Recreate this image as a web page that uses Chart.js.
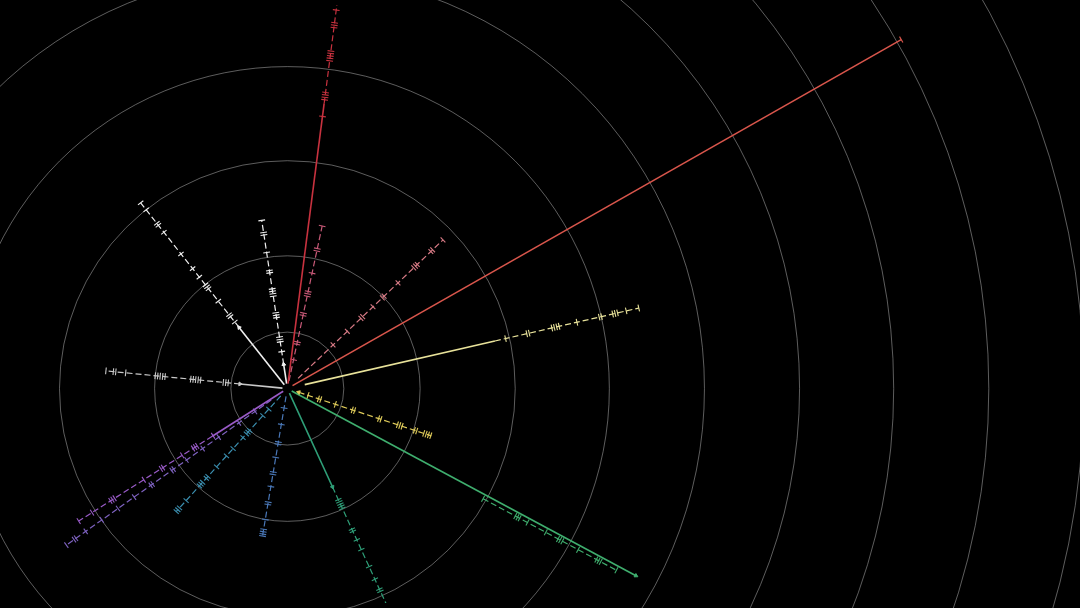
<!DOCTYPE html>
<html>
<head>
<meta charset="utf-8">
<script src="https://cdn.jsdelivr.net/npm/chart.js@4"></script>
<style>
  html, body { margin: 0; padding: 0; background: #000; overflow: hidden; }
  #wrap { width: 1080px; height: 608px; position: relative; }
</style>
</head>
<body>
<div id="wrap"><canvas id="c"></canvas></div>
<script>
// ---- data (polar: angle in degrees, radius in px units) ----
const ringRadii = [57, 134, 230, 325, 421, 517, 612, 708, 804];

const spokeNames  = ['redLong','redUp','redDash','salmon','yellowLong','yellowShort','greenLong','greenDown','blueDown','blueLeft','purpleA','purpleB','grayLeft','whiteLong','whiteUp'];
const spokeAngles = [29.8, 82.7, 78.0, 43.9, 13.0, -18.3, -28.4, -65.5, -99.5, -131.9, -147.4, -144.5, 174.4, 128.1, 98.6];
const spokeColors = ['#d9564c','#c8323f','#c85a78','#d77a85','#e8e29a','#e0cc5a','#3fae6e','#2f9f78','#4a78b8','#3b8fb0','#9a5bc8','#7e62c0','#c8c8c8','#f0f0f0','#f0f0f0'];
const solidFrom   = [6, 5, 0, 0, 18, 0, 5, 5, 0, 0, 5, 0, 5, 5, 5];
const solidTo     = [714, 292, 0, 0, 215, 0, 400, 110, 0, 0, 90, 0, 48, 79, 25];
const dashFrom    = [0, 292, 8, 15, 215, 12, 227, 110, 8, 10, 90, 20, 48, 79, 25];
const dashTo      = [0, 480, 169, 218, 364, 153, 380, 260, 152, 168, 250, 274, 184, 240, 173];
const dashOffset  = [0, 0, 0, 0, 0, 0, 4.5, 0, 0, 0, 0, 0, 0, 0, 0];
const tickRadii = [
  [714],
  [279, 296, 298.5, 301, 303.5, 336, 338.5, 341, 343.5, 346, 370, 372.5, 375, 388, 410, 430],
  [30, 46, 48.5, 76, 78.5, 96, 98.5, 101, 120, 143, 145.5, 169],
  [64, 84, 103, 105.5, 120, 133, 135.5, 155, 177, 179.5, 182, 201, 203.5, 218],
  [226, 248, 250.5, 274, 276.5, 279, 281.5, 300, 323, 325.5, 337, 339.5, 342, 351, 364],
  [22, 33, 35.5, 51, 69, 71.5, 97, 99.5, 117, 119.5, 122, 135, 137.5, 145, 147.5, 150, 152.5],
  [227, 264, 266.5, 269, 278, 299, 313, 315.5, 318, 336, 357, 359.5, 362, 380],
  [124, 126.5, 129, 131.5, 134, 157, 159.5, 169, 180, 199, 213, 224, 226.5, 250],
  [20, 37, 55, 57.5, 71, 86, 88.5, 101, 117, 119.5, 135, 145, 147.5, 150, 152],
  [28, 37, 57, 59.5, 62, 67, 82, 92, 107, 120, 122.5, 128, 130.5, 133, 153, 163, 165.5, 168],
  [89, 108, 110.5, 113, 126, 149, 151.5, 172, 207, 209.5, 212, 234, 250],
  [40, 60, 85, 105, 125, 141, 143.5, 167, 169.5, 190, 210, 230, 250, 262, 264.5, 274],
  [60, 62.5, 65, 88, 90.5, 93, 95.5, 98, 124, 126.5, 129, 131.5, 134, 164, 174, 176.5, 184],
  [86, 93, 95.5, 113, 129, 131.5, 134, 144, 155, 174, 202, 211, 213.5, 231, 240],
  [38, 48, 50.5, 53, 73, 75.5, 78, 95, 97.5, 100, 102.5, 119, 121.5, 140, 158, 160.5, 173]
];
const arrowRadii  = [0, 0, 0, 0, 0, 12, 400, 110, 0, 0, 0, 0, 48, 79, 25];
const arrowInward = [false, false, false, false, false, true, false, false, false, false, false, false, true, false, false];

// ---- build datasets ----
function pt(a, r, off) {
  const t = a * Math.PI / 180;
  return { x: r * Math.cos(t) + off * Math.sin(t), y: r * Math.sin(t) - off * Math.cos(t) };
}

const datasets = [];
spokeNames.forEach((name, i) => {
  const a = spokeAngles[i], col = spokeColors[i], off = dashOffset[i];
  if (solidTo[i] > solidFrom[i]) {
    datasets.push({
      label: name + ' solid', type: 'scatter', showLine: true,
      data: [pt(a, solidFrom[i], 0), pt(a, solidTo[i], 0)],
      borderColor: col, borderWidth: 1.6, pointRadius: 0
    });
  }
  if (dashTo[i] > dashFrom[i]) {
    datasets.push({
      label: name + ' dash', type: 'scatter', showLine: true,
      data: [pt(a, dashFrom[i], off), pt(a, dashTo[i], off)],
      borderColor: col, borderWidth: 1.2, borderDash: [6, 3], pointRadius: 0
    });
  }
  datasets.push({
    label: name + ' ticks', type: 'scatter', showLine: false,
    data: tickRadii[i].map(r => pt(a, r, off)),
    pointStyle: 'line', pointRadius: 3.4, pointRotation: 90 - a,
    borderColor: col, borderWidth: 1.1, pointHoverRadius: 0
  });
  if (arrowRadii[i] > 0) {
    datasets.push({
      label: name + ' arrow', type: 'scatter', showLine: false,
      data: [pt(a, arrowRadii[i], 0)],
      pointStyle: 'triangle', pointRadius: 2.2, pointRotation: 90 - a + (arrowInward[i] ? 180 : 0),
      backgroundColor: col, borderColor: col, borderWidth: 1
    });
  }
});

const ringsPlugin = {
  id: 'rings',
  beforeDraw(chart) {
    const ctx = chart.ctx;
    ctx.save();
    ctx.fillStyle = '#000';
    ctx.fillRect(0, 0, chart.width, chart.height);
    ctx.restore();
  },
  beforeDatasetsDraw(chart) {
    const xs = chart.scales.x, ys = chart.scales.y, ctx = chart.ctx;
    const cx = xs.getPixelForValue(0), cy = ys.getPixelForValue(0);
    ctx.save();
    ctx.strokeStyle = 'rgba(185,185,185,0.5)';
    ctx.lineWidth = 1;
    ringRadii.forEach(r => {
      const pr = xs.getPixelForValue(r) - cx;
      ctx.beginPath();
      ctx.arc(cx, cy, pr, 0, Math.PI * 2);
      ctx.stroke();
    });
    ctx.restore();
  }
};

new Chart(document.getElementById('c'), {
  type: 'scatter',
  data: { datasets },
  options: {
    responsive: true, maintainAspectRatio: false, animation: false,
    layout: { padding: 0 },
    plugins: { legend: { display: false }, tooltip: { enabled: false } },
    events: [],
    scales: {
      x: { type: 'linear', min: -285, max: 795, display: false },
      y: { type: 'linear', min: -218, max: 390, display: false }
    }
  },
  plugins: [ringsPlugin]
});
</script>
</body>
</html>
